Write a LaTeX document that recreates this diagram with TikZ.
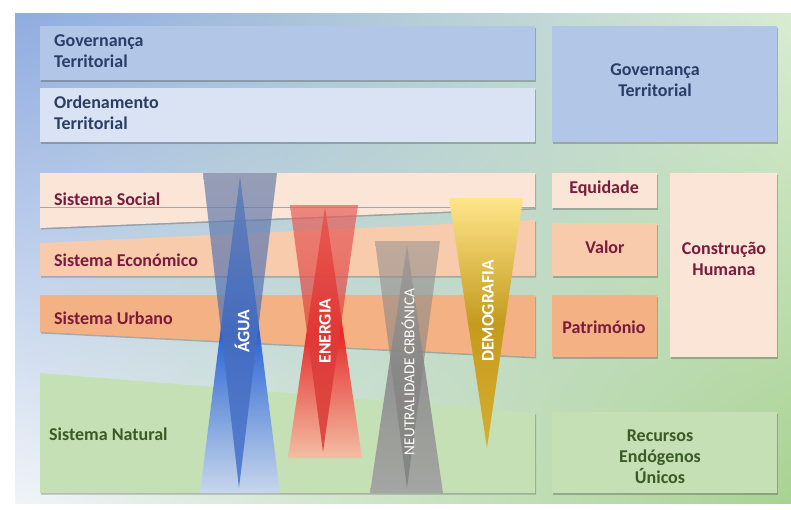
\documentclass[tikz,border=0pt]{standalone}
\usepackage{fontspec}
\setmainfont{Carlito}
\usetikzlibrary{shadows,shadings}
\definecolor{govblue}{HTML}{B2C6E8}
\definecolor{ordblue}{HTML}{DAE3F3}
\definecolor{socpeach}{HTML}{FBE5D6}
\definecolor{ecopeach}{HTML}{F8CBAD}
\definecolor{urbpeach}{HTML}{F4B183}
\definecolor{natgreen}{HTML}{C5E0B4}
\definecolor{navytxt}{HTML}{2B3D66}
\definecolor{maroontxt}{HTML}{7A1A3C}
\definecolor{greentxt}{HTML}{3A5A26}
\definecolor{bgul}{HTML}{8FACE0}
\definecolor{bgur}{HTML}{D8ECD2}
\definecolor{bgll}{HTML}{F0F4F9}
\definecolor{bglr}{HTML}{A8D292}
% funnel colours
\definecolor{aguatop}{HTML}{4F7FDC}
\definecolor{aguamid}{HTML}{1C5AD4}
\definecolor{aguabot}{HTML}{C8D6F2}
\definecolor{aguainv}{HTML}{6D80A8}
\definecolor{aguainvb}{HTML}{2D5EC8}
\definecolor{enertop}{HTML}{E8453A}
\definecolor{enermid}{HTML}{E81A1A}
\definecolor{enerbot}{HTML}{F8BBA2}
\definecolor{enerinv}{HTML}{E8605A}
\definecolor{enerinvb}{HTML}{D42020}
\definecolor{carbtop}{HTML}{A8A8A8}
\definecolor{carbmid}{HTML}{8C8C8C}
\definecolor{carbbot}{HTML}{A0A0A0}
\definecolor{carbinv}{HTML}{9A9490}
\definecolor{carbinvb}{HTML}{707070}
\definecolor{demotop}{HTML}{FFE58A}
\definecolor{demomid}{HTML}{C49B1E}
\definecolor{demobot}{HTML}{D8AE30}
\tikzset{
  box/.style={drop shadow={shadow xshift=1.2pt,shadow yshift=-1.5pt,opacity=.35,fill=black!70}},
  lbl/.style={font=\bfseries\fontsize{18}{21}\selectfont,inner sep=0pt},
  funtxt/.style={font=\bfseries\fontsize{17.5}{20}\selectfont,text=white,rotate=90,inner sep=0pt}
}
\begin{document}
\begin{tikzpicture}[x=1pt,y=-1pt]
\useasboundingbox[fill=white] (0,0) rectangle (791,509);
% Draw background panel
\shade[upper left=bgul,upper right=bgur,lower left=bgll,lower right=bglr] (15,13) rectangle (791,503);
% Left bands
\fill[govblue,box] (40,26) rectangle (535,80);
\fill[ordblue,box] (40,88) rectangle (535,142);
\fill[socpeach,box] (40,173) -- (535,173) -- (535,208) -- (40,228) -- cycle;
\draw[black!35] (40,207) -- (535,207);
\fill[ecopeach,box] (40,243) -- (535,220) -- (535,276) -- (40,276) -- cycle;
\fill[urbpeach,box] (40,295) -- (535,295) -- (535,357) -- (40,332) -- cycle;
\fill[natgreen,box] (40,373) -- (535,413) -- (535,493) -- (40,493) -- cycle;
% Right boxes
\fill[govblue,box] (552,26) rectangle (777,142);
\fill[socpeach,box] (552,173) rectangle (657,208);
\fill[ecopeach,box] (552,223) rectangle (657,276);
\fill[urbpeach,box] (552,295) rectangle (657,357);
\fill[socpeach,box] (670,173) rectangle (777,357);
\fill[natgreen,box] (552,412) rectangle (777,493);
% Water funnel
\shade[top color=aguatop,bottom color=aguabot,middle color=aguamid,opacity=.9]
  (240,176) -- (280,493) -- (200,493) -- cycle;
\shade[top color=aguainv,bottom color=aguainvb,opacity=.7]
  (203,173) -- (277,173) -- (239,488) -- cycle;
% Energy funnel
\shade[top color=enertop,bottom color=enerbot,middle color=enermid,opacity=.9]
  (325,207) -- (362,458) -- (288,458) -- cycle;
\shade[top color=enerinv,bottom color=enerinvb,opacity=.7]
  (290,205) -- (358,205) -- (323,452) -- cycle;
% Carbon funnel
\shade[top color=carbtop,bottom color=carbbot,middle color=carbmid,opacity=.9]
  (407,245) -- (443,493) -- (370,493) -- cycle;
\shade[top color=carbinv,bottom color=carbinvb,opacity=.6]
  (375,241) -- (440,241) -- (407,488) -- cycle;
% Population funnel
\shade[top color=demotop,bottom color=demobot,middle color=demomid]
  (449,198) -- (523,198) -- (487,448) -- cycle;
% Funnel labels
\node[funtxt] (agua) at (242,331) {ÁGUA};
\node[funtxt] (energia) at (325,331) {ENERGIA};
\node[funtxt,font=\fontsize{15.3}{18}\selectfont] (carbono) at (408,372) {NEUTRALIDADE CRBÓNICA};
\node[funtxt] (demog) at (488,311) {DEMOGRAFIA};
% Band labels
\node[lbl,text=navytxt,anchor=west,align=left] (govL) at (54,51) {Governança\\Territorial};
\node[lbl,text=navytxt,anchor=west,align=left] (ordL) at (54,113) {Ordenamento\\Territorial};
\node[lbl,text=maroontxt,anchor=west] (soc) at (54,199) {Sistema Social};
\node[lbl,text=maroontxt,anchor=west] (eco) at (54,260) {Sistema Económico};
\node[lbl,text=maroontxt,anchor=west] (urb) at (54,318) {Sistema Urbano};
\node[lbl,text=greentxt,anchor=west] (nat) at (49,434) {Sistema Natural};
% Box labels
\node[lbl,text=navytxt,align=center] (govR) at (655,80) {Governança\\Territorial};
\node[lbl,text=maroontxt] (equi) at (604,189) {Equidade};
\node[lbl,text=maroontxt] (valor) at (605,247) {Valor};
\node[lbl,text=maroontxt] (patr) at (604,327) {Património};
\node[lbl,text=maroontxt,align=center] (constr) at (724,259) {Construção\\Humana};
\node[lbl,text=greentxt,align=center] (recur) at (660,457) {Recursos\\Endógenos\\Únicos};
\end{tikzpicture}
\end{document}
